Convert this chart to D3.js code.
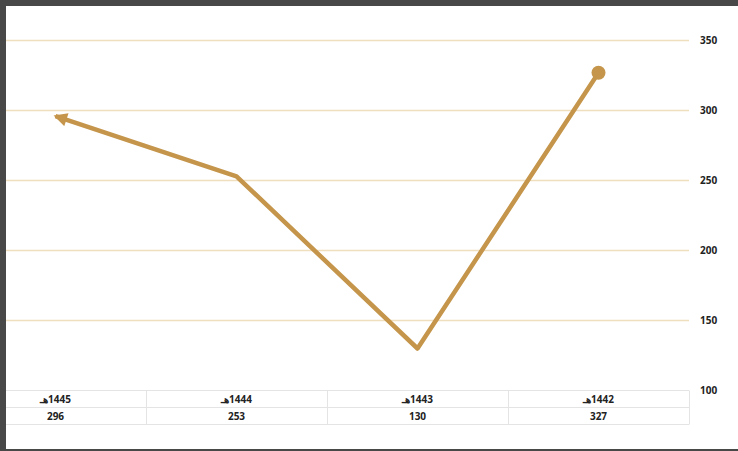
<!DOCTYPE html>
<html><head><meta charset="utf-8">
<script src="https://cdn.jsdelivr.net/npm/d3@7"></script>
<style>html,body{margin:0;padding:0;background:#484848;}svg{display:block;}</style>
</head><body>
<svg id="c" width="738" height="451"></svg>
<script>
const categories = ["1445هـ", "1444هـ", "1443هـ", "1442هـ"];
const values = [296, 253, 130, 327];
const yTicks = [100, 150, 200, 250, 300, 350];

const svg = d3.select("#c");
const W = 738, H = 451;
svg.append("rect").attr("width", W).attr("height", H).attr("fill", "#484848");
svg.append("rect").attr("x", 6).attr("y", 6).attr("width", W - 6).attr("height", 443).attr("fill", "#ffffff");

const x = d3.scaleBand().domain(categories).range([-35, 689]);
const y = d3.scaleLinear().domain([100, 350]).range([390.5, 40.5]);
const cx = d => x(d) + x.bandwidth() / 2;

// gridlines
svg.append("g").selectAll("line").data(yTicks.filter(t => t > 100)).join("line")
  .attr("x1", 6).attr("x2", 689).attr("y1", d => y(d)).attr("y2", d => y(d))
  .attr("stroke", "#f0dfbf").attr("stroke-width", 1.5);

// right axis labels
const yAxis = d3.axisRight(y).tickValues(yTicks).tickSize(0).tickPadding(0);
const ag = svg.append("g").attr("transform", "translate(700,0)").call(yAxis);
ag.select(".domain").remove();
ag.selectAll("text").attr("font-family", "'Open Sans', sans-serif").attr("font-size", 10)
  .attr("font-weight", 700).attr("fill", "#222").attr("dy", "0.32em");

// table
const tg = svg.append("g");
const rows = [390.5, 407.5, 424.5];
rows.forEach(r => tg.append("line").attr("x1", 6).attr("x2", 689).attr("y1", r).attr("y2", r)
  .attr("stroke", "#e4e4e4").attr("stroke-width", 1));
tg.selectAll("line.v").data(categories).join("line").attr("class", "v")
  .attr("x1", d => x(d) + x.bandwidth() + 0.5).attr("x2", d => x(d) + x.bandwidth() + 0.5)
  .attr("y1", rows[0]).attr("y2", rows[2]).attr("stroke", "#e4e4e4");
tg.selectAll("text.cat").data(categories).join("text").attr("class", "cat")
  .attr("x", d => cx(d)).attr("y", 399).attr("dy", "0.35em")
  .attr("text-anchor", "middle").attr("direction", "rtl")
  .attr("font-family", "'Open Sans', sans-serif").attr("font-size", 10).attr("font-weight", 700).attr("fill", "#222")
  .text(d => d);
tg.selectAll("text.val").data(values).join("text").attr("class", "val")
  .attr("x", (d, i) => cx(categories[i])).attr("y", 416).attr("dy", "0.35em")
  .attr("text-anchor", "middle")
  .attr("font-family", "'Open Sans', sans-serif").attr("font-size", 10).attr("font-weight", 700).attr("fill", "#222")
  .text(d => d);

// arrow marker
const color = "#c4954a";
svg.append("defs").append("marker").attr("id", "arr")
  .attr("viewBox", "0 0 10 10").attr("refX", 8.5).attr("refY", 5)
  .attr("markerWidth", 3.4).attr("markerHeight", 3).attr("markerUnits", "strokeWidth")
  .attr("orient", "auto-start-reverse")
  .append("path").attr("d", "M0,0 L10,5 L0,10 Z").attr("fill", color);

const pts = categories.map((c, i) => [cx(c), y(values[i])]);
svg.append("path").datum(pts)
  .attr("d", d3.line())
  .attr("fill", "none").attr("stroke", color).attr("stroke-width", 4.5)
  .attr("stroke-linejoin", "round")
  .attr("marker-start", "url(#arr)");
svg.append("circle").attr("cx", pts[3][0]).attr("cy", pts[3][1]).attr("r", 7).attr("fill", color);
</script>
</body></html>
